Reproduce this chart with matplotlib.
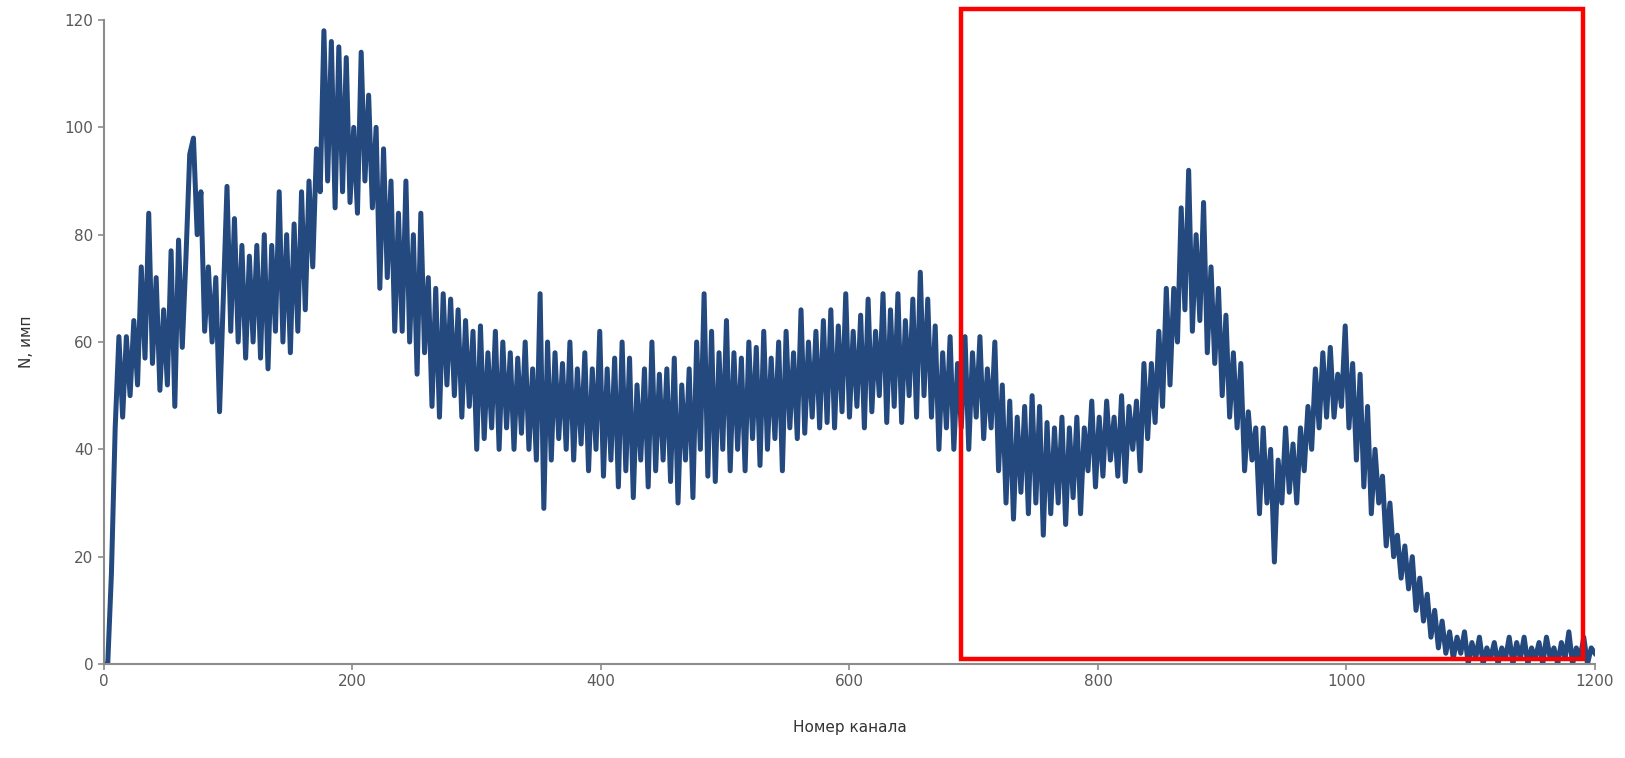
import matplotlib
matplotlib.use("Agg")
import matplotlib.pyplot as plt
import numpy as np
from matplotlib.patches import Rectangle

# counts every 3 channels (0..1200)
channels = np.arange(0, 1201, 3)
counts = [
    0, 0, 17, 44, 61, 46, 61, 50, 64, 52,
    74, 57, 84, 56, 72, 51, 66, 52, 77, 48,
    79, 59, 76, 95, 98, 80, 88, 62, 74, 60,
    72, 47, 68, 89, 62, 83, 60, 78, 57, 76,
    60, 78, 57, 80, 55, 78, 62, 88, 60, 80,
    58, 82, 62, 88, 66, 90, 74, 96, 88, 118,
    90, 116, 85, 115, 88, 113, 86, 100, 84, 114,
    90, 106, 85, 100, 70, 96, 72, 90, 62, 84,
    62, 90, 60, 80, 54, 84, 58, 72, 48, 70,
    46, 69, 52, 68, 50, 66, 46, 64, 48, 62,
    40, 63, 42, 58, 44, 62, 40, 60, 44, 58,
    40, 57, 43, 60, 40, 55, 38, 69, 29, 60,
    38, 58, 42, 56, 40, 60, 38, 55, 41, 58,
    36, 55, 40, 62, 35, 55, 38, 57, 33, 60,
    36, 57, 31, 52, 38, 55, 33, 60, 36, 54,
    38, 55, 34, 57, 30, 52, 38, 55, 31, 60,
    40, 69, 35, 62, 34, 58, 40, 64, 36, 58,
    40, 57, 36, 60, 42, 59, 37, 62, 40, 57,
    42, 60, 36, 62, 44, 58, 42, 66, 43, 60,
    46, 62, 44, 64, 45, 66, 44, 63, 47, 69,
    46, 62, 48, 65, 44, 68, 47, 62, 50, 69,
    45, 66, 48, 69, 45, 64, 50, 68, 46, 73,
    50, 68, 46, 63, 40, 58, 44, 61, 40, 56,
    44, 61, 40, 58, 46, 61, 42, 55, 44, 60,
    36, 52, 30, 49, 27, 46, 32, 48, 28, 50,
    30, 48, 24, 45, 28, 44, 30, 46, 26, 44,
    31, 46, 28, 44, 36, 49, 33, 46, 35, 49,
    38, 46, 35, 50, 34, 48, 40, 49, 36, 56,
    42, 56, 45, 62, 48, 70, 52, 70, 60, 85,
    66, 92, 62, 80, 64, 86, 58, 74, 56, 70,
    50, 65, 46, 58, 44, 56, 36, 47, 38, 44,
    28, 44, 30, 40, 19, 38, 30, 44, 32, 41,
    30, 44, 36, 48, 40, 55, 44, 58, 46, 59,
    46, 54, 48, 63, 44, 56, 38, 54, 33, 48,
    28, 40, 30, 35, 22, 30, 20, 24, 16, 22,
    14, 20, 10, 16, 8, 13, 5, 10, 3, 8,
    2, 6, 1, 5, 2, 6, 0, 4, 1, 5,
    0, 3, 1, 4, 0, 3, 1, 5, 0, 4,
    1, 5, 0, 3, 1, 4, 0, 5, 1, 3,
    0, 4, 1, 6, 0, 3, 1, 5, 0, 3,
    2,
]

# highlighted window (channels / counts)
box_x = [690, 1190]
box_y = [1, 122]

GRAY = "#595959"
fig = plt.figure(figsize=(16.25, 7.58), dpi=100)
ax = fig.add_axes([0.064, 0.124, 0.9175, 0.8496])

ax.plot(channels, counts, color="#23497E", lw=3.6)

ax.set_xlim(0, 1200)
ax.set_ylim(0, 120)
ax.set_xticks(np.arange(0, 1201, 200))
ax.set_yticks(np.arange(0, 121, 20))
for s in ["top", "right"]:
    ax.spines[s].set_visible(False)
for s in ["left", "bottom"]:
    ax.spines[s].set_color("#8c8c8c")
    ax.spines[s].set_linewidth(1.5)
ax.tick_params(colors="#8c8c8c", labelcolor=GRAY, labelsize=11, length=4, width=1.2)

ax.set_xlabel("Номер канала", fontsize=11, color="#333333", labelpad=22)
ax.set_ylabel("N, имп", fontsize=11, color="#333333", labelpad=22)

ax.add_patch(Rectangle((box_x[0], box_y[0]), box_x[1] - box_x[0], box_y[1] - box_y[0],
                       fill=False, edgecolor="red", lw=3.2, clip_on=False, zorder=5))

fig.savefig("out.png", dpi=100)
